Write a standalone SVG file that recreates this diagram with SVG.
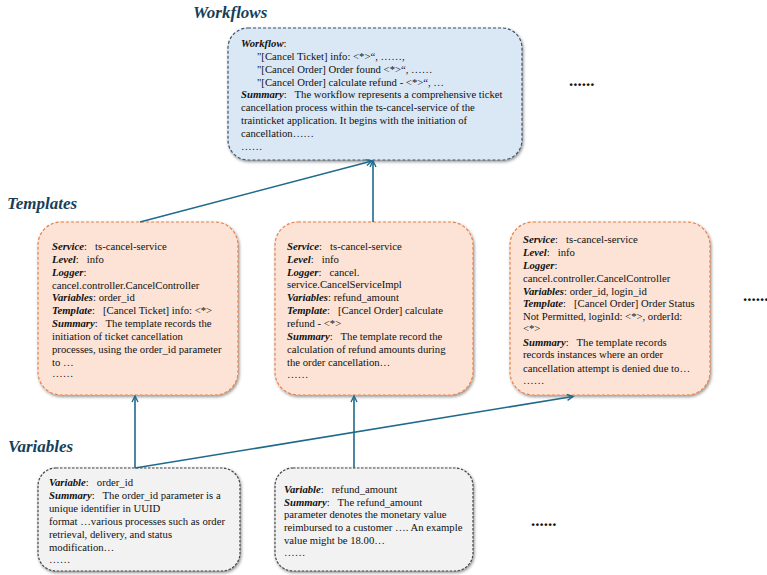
<svg xmlns="http://www.w3.org/2000/svg" width="767" height="575" viewBox="0 0 767 575">
<defs>
<style>
text{font-family:'Liberation Serif','Times New Roman',Tinos,'DejaVu Serif',serif}
.t{font-size:10.7px;fill:#111;white-space:pre}
.b{font-weight:bold;font-style:italic}
.h{font-weight:bold;font-style:italic;font-size:17px;fill:#173f5a}
.dots{font-weight:bold;font-size:17px;fill:#111}
.wf{fill:#dae8f6;stroke:#3d5468;stroke-width:1.2;stroke-dasharray:3 2}
.tp{fill:#fce3d5;stroke:#e98148;stroke-width:1.2;stroke-dasharray:3 2}
.vr{fill:#f2f2f2;stroke:#444;stroke-width:1.2;stroke-dasharray:2.5 1.5}
.c{stroke:#1f6a8b;stroke-width:1.6;fill:none;marker-end:url(#arr)}
</style>
<filter id="sh" x="-10%" y="-10%" width="120%" height="125%">
<feDropShadow dx="1" dy="1.5" stdDeviation="1.8" flood-color="#000" flood-opacity="0.45"/>
</filter>
<marker id="arr" markerUnits="userSpaceOnUse" markerWidth="10" markerHeight="10" refX="7" refY="4" orient="auto">
<path d="M1,1 L7,4 L1,7" fill="none" stroke="#1f6a8b" stroke-width="1.4"/>
</marker>
</defs>
<rect width="767" height="575" fill="#fff"/>

<g font-family="Liberation Serif, serif">
<text class="h" x="193" y="18">Workflows</text>
<text class="h" x="7" y="209">Templates</text>
<text class="h" x="8" y="452">Variables</text>

<text class="dots" x="569" y="86">......</text>
<text class="dots" x="743" y="301">......</text>
<text class="dots" x="531" y="526">......</text>

<g id="workflow">
<rect class="wf" x="228" y="28" width="294" height="132" rx="20" filter="url(#sh)"/>
<text class="t" x="241" y="47"><tspan class="b">Workflow</tspan>:</text>
<text class="t" x="257" y="60">"[Cancel Ticket] info: &lt;*&gt;“, ……,</text>
<text class="t" x="257" y="73">"[Cancel Order] Order found &lt;*&gt;“, ……</text>
<text class="t" x="257" y="85.5">"[Cancel Order] calculate refund - &lt;*&gt;“, …</text>
<text class="t" x="241" y="98"><tspan class="b">Summary</tspan>:   The workflow represents a comprehensive ticket</text>
<text class="t" x="241" y="111">cancellation process within the ts-cancel-service of the</text>
<text class="t" x="241" y="124">trainticket application. It begins with the initiation of</text>
<text class="t" x="241" y="137">cancellation……</text>
<text class="t" x="241" y="150">……</text>
</g>

<g id="template1">
<rect class="tp" x="38" y="222" width="200" height="173" rx="23" filter="url(#sh)"/>
<text class="t" x="52" y="249.5"><tspan class="b">Service</tspan>:   ts-cancel-service</text>
<text class="t" x="52" y="262.5"><tspan class="b">Level</tspan>:   info</text>
<text class="t" x="52" y="275.5"><tspan class="b">Logger</tspan>:</text>
<text class="t" x="52" y="288.5">cancel.controller.CancelController</text>
<text class="t" x="52" y="301"><tspan class="b">Variables</tspan>: order_id</text>
<text class="t" x="52" y="314"><tspan class="b">Template</tspan>:   [Cancel Ticket] info: &lt;*&gt;</text>
<text class="t" x="52" y="327"><tspan class="b">Summary</tspan>:   The template records the</text>
<text class="t" x="52" y="339.5">initiation of ticket cancellation</text>
<text class="t" x="52" y="352.5">processes, using the order_id parameter</text>
<text class="t" x="52" y="365.5">to …</text>
<text class="t" x="52" y="377">……</text>
</g>

<g id="template2">
<rect class="tp" x="275" y="222" width="198" height="173" rx="23" filter="url(#sh)"/>
<text class="t" x="287" y="249.5"><tspan class="b">Service</tspan>:   ts-cancel-service</text>
<text class="t" x="287" y="262.5"><tspan class="b">Level</tspan>:   info</text>
<text class="t" x="287" y="275.5"><tspan class="b">Logger</tspan>:   cancel.</text>
<text class="t" x="287" y="288">service.CancelServiceImpl</text>
<text class="t" x="287" y="301"><tspan class="b">Variables</tspan>: refund_amount</text>
<text class="t" x="287" y="314"><tspan class="b">Template</tspan>:   [Cancel Order] calculate</text>
<text class="t" x="287" y="327">refund - &lt;*&gt;</text>
<text class="t" x="287" y="340"><tspan class="b">Summary</tspan>:   The template record the</text>
<text class="t" x="287" y="352.5">calculation of refund amounts during</text>
<text class="t" x="287" y="365.5">the order cancellation…</text>
<text class="t" x="287" y="377.5">……</text>
</g>

<g id="template3">
<rect class="tp" x="510" y="222" width="200" height="173" rx="23" filter="url(#sh)"/>
<text class="t" x="523" y="243"><tspan class="b">Service</tspan>:   ts-cancel-service</text>
<text class="t" x="523" y="256"><tspan class="b">Level</tspan>:   info</text>
<text class="t" x="523" y="268.5"><tspan class="b">Logger</tspan>:</text>
<text class="t" x="523" y="281.5">cancel.controller.CancelController</text>
<text class="t" x="523" y="294.5"><tspan class="b">Variables</tspan>: order_id, login_id</text>
<text class="t" x="523" y="307"><tspan class="b">Template</tspan>:   [Cancel Order] Order Status</text>
<text class="t" x="523" y="320">Not Permitted, loginId: &lt;*&gt;, orderId:</text>
<text class="t" x="523" y="332">&lt;*&gt;</text>
<text class="t" x="523" y="345.5"><tspan class="b">Summary</tspan>:   The template records</text>
<text class="t" x="523" y="358">records instances where an order</text>
<text class="t" x="523" y="371.5">cancellation attempt is denied due to…</text>
<text class="t" x="523" y="383.5">……</text>
</g>

<g id="variable1">
<rect class="vr" x="38" y="468" width="202" height="103" rx="18" filter="url(#sh)"/>
<text class="t" x="49" y="485.5"><tspan class="b">Variable</tspan>:   order_id</text>
<text class="t" x="49" y="499"><tspan class="b">Summary</tspan>:   The order_id parameter is a</text>
<text class="t" x="49" y="511.5">unique identifier in UUID</text>
<text class="t" x="49" y="524.5">format …various processes such as order</text>
<text class="t" x="49" y="537.5">retrieval, delivery, and status</text>
<text class="t" x="49" y="550.5">modification…</text>
<text class="t" x="49" y="562.5">……</text>
</g>

<g id="variable2">
<rect class="vr" x="275" y="468" width="198" height="103" rx="18" filter="url(#sh)"/>
<text class="t" x="284" y="493"><tspan class="b">Variable</tspan>:   refund_amount</text>
<text class="t" x="284" y="505.5"><tspan class="b">Summary</tspan>:   The refund_amount</text>
<text class="t" x="284" y="518">parameter denotes the monetary value</text>
<text class="t" x="284" y="531">reimbursed to a customer …. An example</text>
<text class="t" x="284" y="544">value might be 18.00…</text>
<text class="t" x="284" y="556">……</text>
</g>
</g>

<g id="connectors">
<line class="c" x1="140" y1="222" x2="372" y2="161"/>
<line class="c" x1="373" y1="222" x2="373" y2="161"/>
<line class="c" x1="135" y1="468" x2="135" y2="396"/>
<line class="c" x1="354" y1="468" x2="354" y2="396"/>
<line class="c" x1="135" y1="468" x2="573" y2="396.5"/>
</g>
</svg>
